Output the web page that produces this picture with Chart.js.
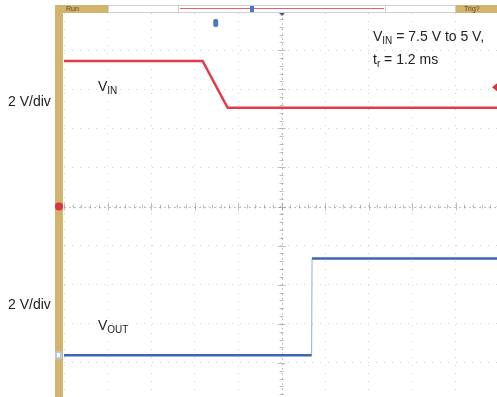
<!DOCTYPE html>
<html>
<head>
<meta charset="utf-8">
<script src="https://cdn.jsdelivr.net/npm/chart.js@4"></script>
<style>
    body { margin: 0; background: #fff; }
    #wrap { position: relative; width: 497px; height: 397px; overflow: hidden; background: #fff; }
    #scope { position: absolute; left: 0; top: 0; }
    .lbl { position: absolute; font-family: "Liberation Sans", Arial, sans-serif; font-size: 14px; line-height: 14px; color: #222; white-space: nowrap; }
    .lbl sub { font-size: 10px; vertical-align: -3px; line-height: 0; }
    .tag { position: absolute; font-family: "Liberation Sans", Arial, sans-serif; font-size: 7px; line-height: 8px; color: #5a4a20; }
</style>
</head>
<body>
<div id="wrap">
    <canvas id="scope" width="497" height="397"></canvas>
    <div class="tag" style="left:66px;top:5px">Run</div>
    <div class="tag" style="left:464px;top:5px">Trig?</div>
    <div class="lbl" style="left:8px;top:94px">2 V/div</div>
    <div class="lbl" style="left:8px;top:297px">2 V/div</div>
    <div class="lbl" style="left:98px;top:79px">V<sub>IN</sub></div>
    <div class="lbl" style="left:98px;top:318px">V<sub>OUT</sub></div>
    <div class="lbl" style="left:373px;top:29px">V<sub>IN</sub> = 7.5 V to 5 V,</div>
    <div class="lbl" style="left:373px;top:52px">t<sub>r</sub> = 1.2 ms</div>
</div>
<script>
// scope settings: 2 ms/div horizontal, 2 V/div on both channels
const voltsPerDiv = 2;
const vinOffsetDiv = 0;
const voutOffsetDiv = -3.8;
const triggerLevelVolts = 6.1;

// traces (time in ms, level in V)
const vinTimeMs = [-10, -3.63, -2.48, 9.9];
const vinVolts = [7.45, 7.45, 5.05, 5.05];
const voutTimeMs = [-10, 1.38, 1.40, 9.9];
const voutVolts = [0, 0, 4.95, 4.95];

function toDiv(times, volts, offset) {
    return times.map((t, i) => ({ x: t, y: volts[i] / voltsPerDiv + offset }));
}

// fast edges are drawn thin and faint like on the scope screen
function isFastEdge(ctx) {
    const dx = Math.abs(ctx.p1.parsed.x - ctx.p0.parsed.x);
    const dy = Math.abs(ctx.p1.parsed.y - ctx.p0.parsed.y);
    return dx < 0.1 && dy > 0.5;
}

const gold = '#d3b46c';

const scopeDecor = {
    id: 'scopeDecor',
    beforeDatasetsDraw(chart) {
        const { ctx, chartArea, scales } = chart;
        const x0 = scales.x.getPixelForValue(0);
        const y0 = scales.y.getPixelForValue(0);
        const pxDivX = scales.x.getPixelForValue(2) - x0;
        const pxDivY = y0 - scales.y.getPixelForValue(1);
        ctx.save();
        ctx.strokeStyle = 'rgba(130,130,130,0.5)';
        ctx.lineWidth = 1;
        // center cross
        ctx.setLineDash([2, 3]);
        ctx.beginPath();
        ctx.moveTo(chartArea.left, Math.round(y0) + 0.5);
        ctx.lineTo(chartArea.right, Math.round(y0) + 0.5);
        ctx.moveTo(Math.round(x0) + 0.5, chartArea.top);
        ctx.lineTo(Math.round(x0) + 0.5, chartArea.bottom);
        ctx.stroke();
        ctx.setLineDash([]);
        ctx.beginPath();
        for (let k = -25; k <= 25; k++) {
            const len = k % 5 === 0 ? 4 : 2;
            const px = Math.round(x0 + k * pxDivX / 5) + 0.5;
            if (px > chartArea.left && px < chartArea.right) {
                ctx.moveTo(px, y0 - len);
                ctx.lineTo(px, y0 + len);
            }
            const py = Math.round(y0 + k * pxDivY / 5) + 0.5;
            if (py > chartArea.top && py < chartArea.bottom) {
                ctx.moveTo(x0 - len, py);
                ctx.lineTo(x0 + len, py);
            }
        }
        ctx.stroke();
        ctx.restore();
    },
    afterDraw(chart) {
        const { ctx, chartArea, scales } = chart;
        ctx.save();
        // left channel strip and top status bar
        ctx.fillStyle = gold;
        ctx.fillRect(55, 5, 8, 397);
        ctx.fillRect(55, 5, 53, 8);
        ctx.fillRect(455, 5, 42, 8);
        ctx.strokeStyle = '#cfcfcf';
        ctx.lineWidth = 1;
        ctx.strokeRect(108.5, 5.5, 70, 7);
        ctx.strokeRect(178.5, 5.5, 207, 7);
        ctx.strokeRect(385.5, 5.5, 70, 7);
        ctx.strokeStyle = 'rgba(220,60,70,0.8)';
        ctx.beginPath();
        ctx.moveTo(180, 8.5);
        ctx.lineTo(384, 8.5);
        ctx.stroke();
        ctx.fillStyle = '#4a78c0';
        ctx.fillRect(250, 6, 4, 6);
        ctx.fillStyle = '#3a5a90';
        ctx.beginPath();
        ctx.moveTo(279, 13);
        ctx.lineTo(285, 13);
        ctx.lineTo(282, 16);
        ctx.fill();
        // trigger position marker
        ctx.fillStyle = '#4a78c0';
        ctx.beginPath();
        ctx.roundRect(scales.x.getPixelForValue(-3.05) - 2, 19, 5, 8, 2);
        ctx.fill();
        // channel ground markers
        const yRed = scales.y.getPixelForValue(vinOffsetDiv);
        ctx.fillStyle = '#e0303c';
        ctx.beginPath();
        ctx.arc(59, yRed, 4, 0, Math.PI * 2);
        ctx.fill();
        const yBlue = scales.y.getPixelForValue(voutOffsetDiv);
        ctx.fillStyle = '#b9c6dc';
        ctx.fillRect(55, yBlue - 4, 7, 8);
        ctx.fillStyle = '#ffffff';
        ctx.fillRect(57, yBlue - 2, 3, 4);
        // trigger level marker at right edge
        const yTrig = scales.y.getPixelForValue(triggerLevelVolts / voltsPerDiv + vinOffsetDiv);
        ctx.fillStyle = '#e0303c';
        ctx.beginPath();
        ctx.moveTo(chartArea.right, yTrig - 4);
        ctx.lineTo(chartArea.right - 5, yTrig);
        ctx.lineTo(chartArea.right, yTrig + 4);
        ctx.fill();
        ctx.restore();
    }
};

new Chart(document.getElementById('scope'), {
    type: 'line',
    data: {
        datasets: [{
            label: 'VIN',
            data: toDiv(vinTimeMs, vinVolts, vinOffsetDiv),
            borderColor: '#e23a48',
            borderWidth: 2.5,
            pointRadius: 0,
            tension: 0
        }, {
            label: 'VOUT',
            data: toDiv(voutTimeMs, voutVolts, voutOffsetDiv),
            borderColor: '#3f64b5',
            borderWidth: 2.5,
            pointRadius: 0,
            tension: 0,
            segment: {
                borderWidth: ctx => isFastEdge(ctx) ? 1 : undefined,
                borderColor: ctx => isFastEdge(ctx) ? 'rgba(63,100,181,0.55)' : undefined
            }
        }]
    },
    options: {
        responsive: false,
        animation: false,
        layout: { padding: { left: 64, top: 13, right: 0, bottom: 0 } },
        plugins: { legend: { display: false }, tooltip: { enabled: false } },
        scales: {
            x: {
                type: 'linear',
                min: -10,
                max: 9.9,
                ticks: { display: false, stepSize: 2, includeBounds: false },
                grid: { color: 'rgba(140,140,140,0.38)', drawTicks: false },
                border: { display: false, dash: [1, 7] }
            },
            y: {
                type: 'linear',
                min: -4.87,
                max: 4.95,
                ticks: { display: false, stepSize: 1, includeBounds: false },
                grid: { color: 'rgba(140,140,140,0.38)', drawTicks: false },
                border: { display: false, dash: [1, 7] }
            }
        }
    },
    plugins: [scopeDecor]
});
</script>
</body>
</html>
